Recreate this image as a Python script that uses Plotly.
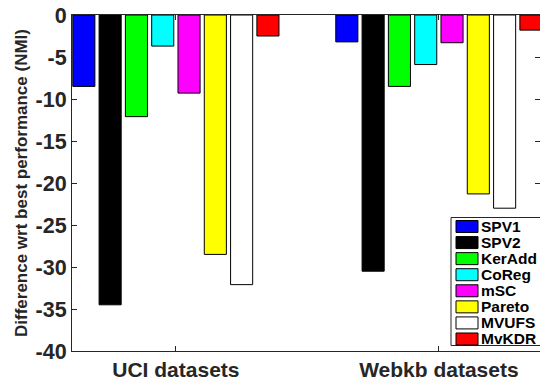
import plotly.graph_objects as go

categories = ["UCI datasets", "Webkb datasets"]
methods = ["SPV1", "SPV2", "KerAdd", "CoReg", "mSC", "Pareto", "MVUFS", "MvKDR"]
colors = ["#0000FF", "#000000", "#00FF00", "#00FFFF", "#FF00FF", "#FFFF00", "#FFFFFF", "#FF0000"]
values = {
    "SPV1":   [-8.5, -3.2],
    "SPV2":   [-34.5, -30.5],
    "KerAdd": [-12.1, -8.5],
    "CoReg":  [-3.7, -5.9],
    "mSC":    [-9.3, -3.3],
    "Pareto": [-28.5, -21.3],
    "MVUFS":  [-32.1, -23.0],
    "MvKDR":  [-2.5, -1.8],
}
y_ticks = [0, -5, -10, -15, -20, -25, -30, -35, -40]
y_tick_text = ["0", "-5", "-10", "-15", "-20", "-25", "-30", "-35", "-40"]

FONT = "Liberation Sans, Arial, sans-serif"
AX = "#262626"

fig = go.Figure()
for m, c in zip(methods, colors):
    fig.add_trace(go.Bar(x=categories, y=values[m], name=m, marker_color=c,
                         marker_line_color="black", marker_line_width=1,
                         showlegend=False))

# plot area in page pixels: x 72..540, y 15..351
W, H = 540, 380
PL, PR, PT, PB = 72, 540, 15, 351
PW, PH = PR - PL, PB - PT


def px(x):
    return (x - PL) / PW


def py(y):
    return (PB - y) / PH


shapes = [dict(type="rect", xref="paper", yref="paper",
               x0=px(451), x1=px(545), y0=py(345.5), y1=py(217.5),
               line=dict(color=AX, width=1), fillcolor="white", layer="above")]
annotations = []
for i, (m, c) in enumerate(zip(methods, colors)):
    cy = 226.5 + i * 16.07
    shapes.append(dict(type="rect", xref="paper", yref="paper",
                       x0=px(456), x1=px(478), y0=py(cy + 6), y1=py(cy - 6),
                       line=dict(color="black", width=1), fillcolor=c, layer="above"))
    annotations.append(dict(xref="paper", yref="paper", x=px(478.5),
                            y=py(cy), text="<b>%s</b>" % m, showarrow=False,
                            xanchor="left", yanchor="middle",
                            font=dict(family=FONT, size=15.5, color="black")))

annotations.append(dict(xref="paper", yref="paper", x=px(21), y=0.5,
                        text="<b>Difference wrt best performance (NMI)</b>", textangle=-90,
                        showarrow=False, xanchor="center", yanchor="middle",
                        font=dict(family=FONT, size=17, color=AX)))

fig.update_layout(
    width=W, height=H,
    margin=dict(l=PL, r=W - PR, t=PT, b=H - PB, pad=0, autoexpand=False),
    plot_bgcolor="white", paper_bgcolor="white",
    barmode="group", bargap=0.2, bargroupgap=0.16,
    shapes=shapes, annotations=annotations,
    font=dict(family=FONT, color=AX),
)
fig.update_xaxes(type="category", range=[-0.395, 1.3845], showline=True, linecolor=AX,
                 linewidth=1, mirror="ticks", ticks="inside", ticklen=5, tickcolor=AX,
                 ticklabeloverflow="allow", automargin=False,
                 tickfont=dict(family=FONT, size=21, color=AX, weight="bold"), showgrid=False)
fig.update_yaxes(range=[-40, 0], tickvals=y_ticks, ticktext=y_tick_text,
                 showline=True, linecolor=AX, linewidth=1, mirror="ticks",
                 ticks="inside", ticklen=5, tickcolor=AX, showgrid=False, zeroline=False,
                 ticklabeloverflow="allow", automargin=False,
                 tickfont=dict(family=FONT, size=21.5, color=AX, weight="bold"))

fig.write_html(
    "out.html",
    config={"displayModeBar": False},
    post_script="document.body.style.margin='0';document.body.style.overflow='hidden';",
)
